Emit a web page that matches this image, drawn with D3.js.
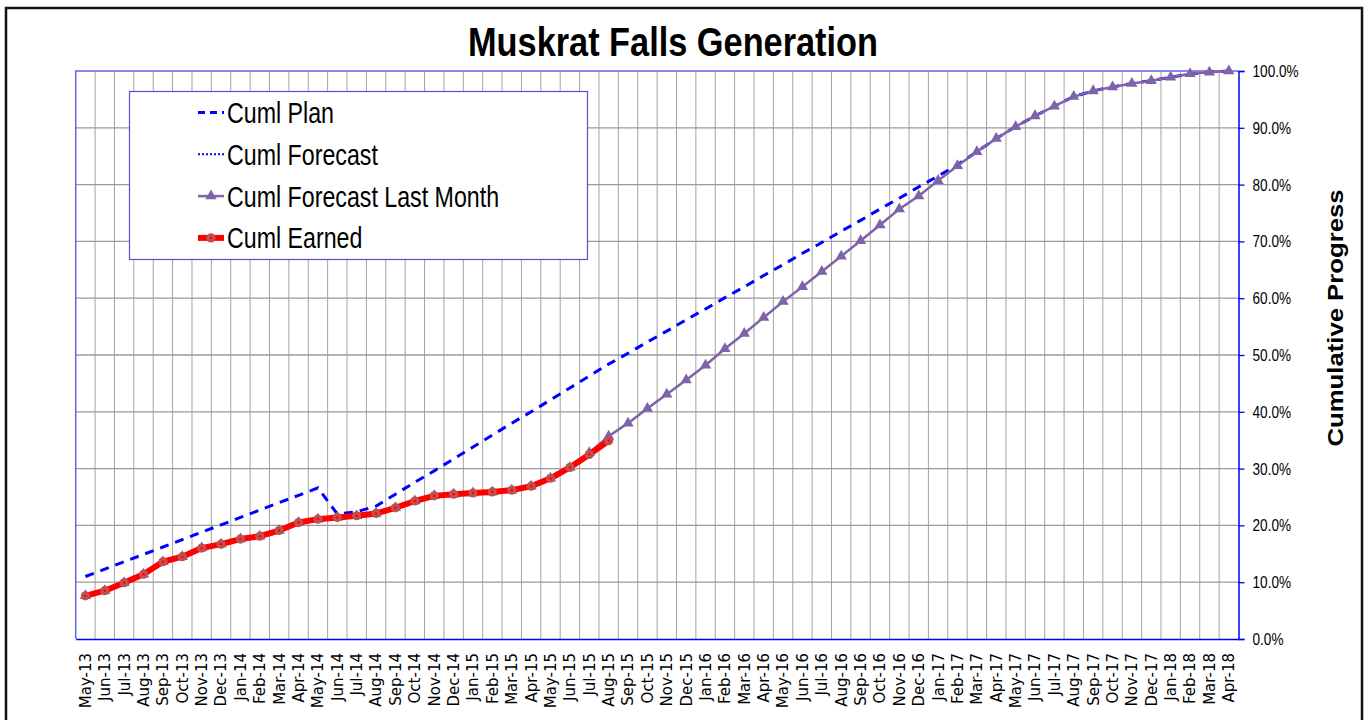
<!DOCTYPE html>
<html>
<head>
<meta charset="utf-8">
<script src="https://cdn.jsdelivr.net/npm/d3@7"></script>
<style>
  body { margin: 0; background: #fff; }
  svg { display: block; }
</style>
</head>
<body>
<svg id="chart" width="1366" height="720"></svg>
<script>
// month categories (May-13 .. Apr-18)
const months = [
  "May-13","Jun-13","Jul-13","Aug-13","Sep-13","Oct-13","Nov-13","Dec-13",
  "Jan-14","Feb-14","Mar-14","Apr-14","May-14","Jun-14","Jul-14","Aug-14","Sep-14","Oct-14","Nov-14","Dec-14",
  "Jan-15","Feb-15","Mar-15","Apr-15","May-15","Jun-15","Jul-15","Aug-15","Sep-15","Oct-15","Nov-15","Dec-15",
  "Jan-16","Feb-16","Mar-16","Apr-16","May-16","Jun-16","Jul-16","Aug-16","Sep-16","Oct-16","Nov-16","Dec-16",
  "Jan-17","Feb-17","Mar-17","Apr-17","May-17","Jun-17","Jul-17","Aug-17","Sep-17","Oct-17","Nov-17","Dec-17",
  "Jan-18","Feb-18","Mar-18","Apr-18"
];

// cumulative %
const cumlPlan = [
  11.0, 12.3, 13.6, 14.9, 16.2, 17.5, 18.8, 20.1, 21.4, 22.7, 24.0, 25.3, 26.6,
  22.0, 22.4, 23.4, 25.5, 27.6, 29.6, 31.7, 33.8, 35.9, 38.0, 40.0, 42.1, 44.2, 46.3, 48.4,
  50.3, 52.3, 54.2, 56.2, 58.1, 60.1, 62.0, 64.0, 65.9, 67.9, 69.8, 71.8,
  73.7, 75.7, 77.6, 79.6, 81.5, 83.5,
  85.8, 88.1, 90.2, 92.1, 93.8, 95.5, 96.5, 97.2, 97.8, 98.3, 98.9, 99.5, 99.8, 100.0
];

const cumlForecastLastMonth = [
  7.6, 8.5, 9.9, 11.4, 13.6, 14.5, 16.0, 16.7, 17.6, 18.1, 19.1, 20.5, 21.1, 21.4,
  21.7, 22.1, 23.1, 24.3, 25.2, 25.5, 25.7, 25.9, 26.2, 26.9, 28.3, 30.2, 32.8, 35.7,
  38.0, 40.6, 43.1, 45.6, 48.2, 51.1, 53.8, 56.6, 59.4, 62.0, 64.7, 67.4,
  70.1, 72.9, 75.7, 78.0, 80.7, 83.3, 85.8, 88.1, 90.2, 92.1, 93.8, 95.5,
  96.5, 97.2, 97.8, 98.3, 98.9, 99.5, 99.8, 100.0
];

const cumlEarned = [
  7.6, 8.5, 9.9, 11.4, 13.6, 14.5, 16.0, 16.7, 17.6, 18.1, 19.1, 20.5, 21.1, 21.4,
  21.7, 22.1, 23.1, 24.3, 25.2, 25.5, 25.7, 25.9, 26.2, 26.9, 28.3, 30.2, 32.5, 34.9
];

const yTicks = [0, 10, 20, 30, 40, 50, 60, 70, 80, 90, 100];

const legendItems = ["Cuml Plan", "Cuml Forecast", "Cuml Forecast Last Month", "Cuml Earned"];

const SANS = "'Liberation Sans', Arial, sans-serif";

// squeeze text to look like a narrow face (no narrow font installed)
function narrow(sel, k) {
  sel.each(function() {
    const w = this.getComputedTextLength();
    d3.select(this)
      .attr("textLength", w * k)
      .attr("lengthAdjust", "spacingAndGlyphs");
  });
}

const svg = d3.select("#chart");
const plot = { left: 75.7, right: 1238.5, top: 71, bottom: 639 };

// outer frame
svg.append("rect")
  .attr("x", 6).attr("y", 8)
  .attr("width", 1356).attr("height", 730)
  .attr("fill", "#fff")
  .attr("stroke", "#111")
  .attr("stroke-width", 2.5);

const x = d3.scaleBand().domain(months).range([plot.left, plot.right]);
const cx = m => x(m) + x.bandwidth() / 2;
const y = d3.scaleLinear().domain([0, 100]).range([plot.bottom, plot.top]);

// vertical grid at category edges
svg.append("g")
  .selectAll("line")
  .data(months.slice(1))
  .enter()
  .append("line")
  .attr("x1", d => x(d)).attr("x2", d => x(d))
  .attr("y1", plot.top).attr("y2", plot.bottom)
  .attr("stroke", "#a3a3a3")
  .attr("stroke-width", 1);

// horizontal grid
svg.append("g")
  .selectAll("line")
  .data(yTicks.slice(1, -1))
  .enter()
  .append("line")
  .attr("x1", plot.left).attr("x2", plot.right)
  .attr("y1", d => y(d)).attr("y2", d => y(d))
  .attr("stroke", "#9a9a9a")
  .attr("stroke-width", 1.3);

// plot border (top / left)
svg.append("path")
  .attr("d", `M${plot.left},${plot.bottom} V${plot.top} H${plot.right}`)
  .attr("fill", "none")
  .attr("stroke", "#6464e6")
  .attr("stroke-width", 1.5);

// right axis
const yAxis = svg.append("g")
  .attr("transform", `translate(${plot.right},0)`)
  .call(d3.axisRight(y).tickValues(yTicks).tickSize(6).tickPadding(8)
    .tickFormat(d => d.toFixed(1) + "%"));
yAxis.select(".domain").attr("stroke", "#0000ff").attr("stroke-width", 1.5);
yAxis.selectAll(".tick line").attr("stroke", "#0000ff").attr("stroke-width", 1.3);
yAxis.selectAll(".tick text")
  .style("font-family", SANS)
  .style("font-size", "17px")
  .attr("fill", "#000")
  .call(narrow, 0.8);

// bottom axis
const xAxis = svg.append("g")
  .attr("transform", `translate(0,${plot.bottom})`)
  .call(d3.axisBottom(x).tickSize(0).tickPadding(0));
xAxis.select(".domain").attr("stroke", "#0000ff").attr("stroke-width", 1.5);
xAxis.selectAll(".tick text")
  .attr("transform", "translate(0,14) rotate(-90)")
  .attr("x", 0).attr("y", 0).attr("dy", "0.36em")
  .attr("text-anchor", "end")
  .style("font-family", "'DejaVu Sans', Verdana, sans-serif")
  .style("font-size", "15px")
  .attr("fill", "#000");

// series
const line = d3.line()
  .x((d, i) => cx(months[i]))
  .y(d => y(d));

svg.append("path")
  .datum(cumlPlan)
  .attr("d", line)
  .attr("fill", "none")
  .attr("stroke", "#0000ff")
  .attr("stroke-width", 3)
  .attr("stroke-dasharray", "9,7");

svg.append("path")
  .datum(cumlForecastLastMonth)
  .attr("d", line)
  .attr("fill", "none")
  .attr("stroke", "#7f63a8")
  .attr("stroke-width", 2.5);

const tri = d3.symbol().type(d3.symbolTriangle).size(55);
svg.append("g")
  .selectAll("path")
  .data(cumlForecastLastMonth)
  .enter()
  .append("path")
  .attr("d", tri)
  .attr("transform", (d, i) => `translate(${cx(months[i])},${y(d)})`)
  .attr("fill", "#7f63a8");

svg.append("path")
  .datum(cumlEarned)
  .attr("d", line)
  .attr("fill", "none")
  .attr("stroke", "#ff0000")
  .attr("stroke-width", 6)
  .attr("stroke-linejoin", "round");

const dots = svg.append("g")
  .selectAll("g")
  .data(cumlEarned)
  .enter()
  .append("g")
  .attr("transform", (d, i) => `translate(${cx(months[i])},${y(d)})`);
dots.append("circle").attr("r", 4.6).attr("fill", "#c0504d");
dots.append("circle").attr("r", 1.2).attr("fill", "#ff0000");

// legend
const legend = svg.append("g");
legend.append("rect")
  .attr("x", 129.5).attr("y", 91.5)
  .attr("width", 458).attr("height", 168)
  .attr("fill", "#fff")
  .attr("stroke", "#5050d8")
  .attr("stroke-width", 1.2);

const rowY = i => 112.5 + i * 41.8;
legend.selectAll("text")
  .data(legendItems)
  .enter()
  .append("text")
  .attr("x", 227)
  .attr("y", (d, i) => rowY(i) + 10.5)
  .text(d => d)
  .style("font-family", SANS)
  .style("font-size", "29px")
  .attr("fill", "#000")
  .call(narrow, 0.8);

legend.append("line")
  .attr("x1", 198).attr("x2", 224).attr("y1", rowY(0)).attr("y2", rowY(0))
  .attr("stroke", "#0000ff").attr("stroke-width", 3).attr("stroke-dasharray", "7,5");
legend.append("line")
  .attr("x1", 198).attr("x2", 224).attr("y1", rowY(1)).attr("y2", rowY(1))
  .attr("stroke", "#0000ff").attr("stroke-width", 2).attr("stroke-dasharray", "2,2");
legend.append("line")
  .attr("x1", 198).attr("x2", 224).attr("y1", rowY(2)).attr("y2", rowY(2))
  .attr("stroke", "#7f63a8").attr("stroke-width", 2.5);
legend.append("path")
  .attr("d", tri)
  .attr("transform", `translate(211,${rowY(2)})`)
  .attr("fill", "#7f63a8");
legend.append("line")
  .attr("x1", 198).attr("x2", 224).attr("y1", rowY(3)).attr("y2", rowY(3))
  .attr("stroke", "#ff0000").attr("stroke-width", 6);
legend.append("circle").attr("cx", 211).attr("cy", rowY(3)).attr("r", 4.6).attr("fill", "#c0504d");
legend.append("circle").attr("cx", 211).attr("cy", rowY(3)).attr("r", 1.2).attr("fill", "#ff0000");

// titles
svg.append("text")
  .attr("x", 673).attr("y", 56)
  .attr("text-anchor", "middle")
  .attr("textLength", 410)
  .attr("lengthAdjust", "spacingAndGlyphs")
  .style("font-family", SANS)
  .style("font-weight", "bold")
  .style("font-size", "41px")
  .text("Muskrat Falls Generation");

svg.append("text")
  .attr("transform", "translate(1343,318) rotate(-90)")
  .attr("text-anchor", "middle")
  .attr("textLength", 257)
  .attr("lengthAdjust", "spacingAndGlyphs")
  .style("font-family", SANS)
  .style("font-weight", "bold")
  .style("font-size", "22px")
  .text("Cumulative Progress");
</script>
</body>
</html>
